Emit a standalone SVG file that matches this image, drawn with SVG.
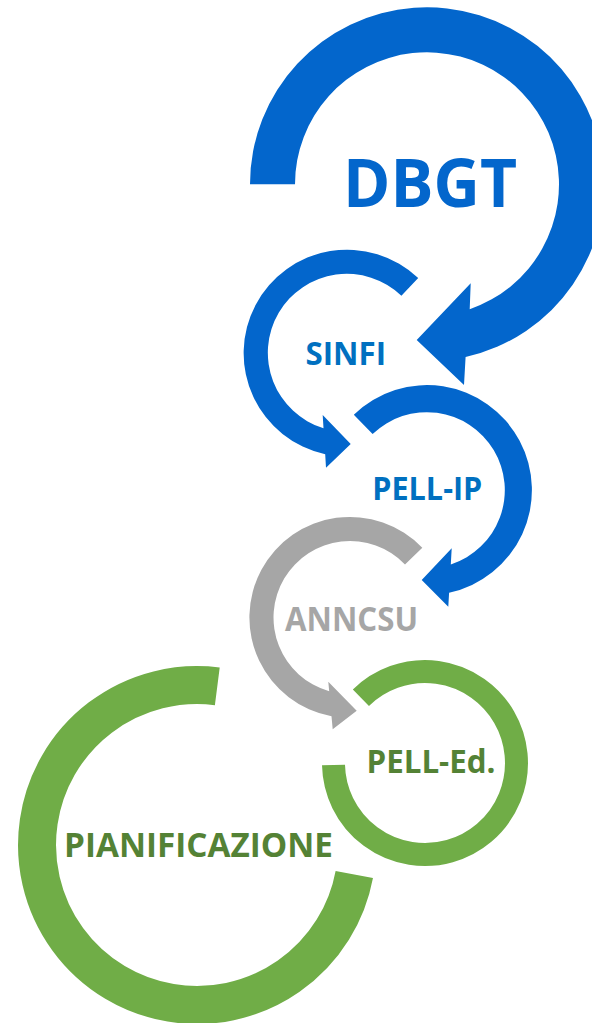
<svg xmlns="http://www.w3.org/2000/svg" width="592" height="1023" viewBox="0 0 592 1023">
<style>
.blue{fill:#0366CC}
.grey{fill:#A6A6A6}
.ring{fill:none;stroke:#70AD47}
.lbl{font-family:"Open Sans","Liberation Sans",sans-serif;font-weight:bold}
.tb{fill:#0070C0}
.tg{fill:#A6A6A6}
.tgr{fill:#548235}
</style>
<rect width="592" height="1023" fill="#FFFFFF"/>
<g id="node-dbgt">
<path class="blue" d="M250,184.3 A177,177 0 1 1 465.6,357 L464,385 L416.7,340 L470.7,283.3 L469.7,309.2 A132,132 0 1 0 295,184.3 Z"/>
<text class="lbl" x="343" y="207" font-size="66" textLength="174" lengthAdjust="spacingAndGlyphs" fill="#0366CC">DBGT</text>
</g>
<g id="node-sinfi">
<path class="blue" d="M418.2,277.9 A103.5,103.5 0 1 0 325.2,454.3 L326,467.7 L350.7,444 L322.7,415 L323.5,428.3 A79,79 0 1 1 401.4,295.7 Z"/>
<text class="lbl tb" x="305.5" y="365" font-size="32.6" textLength="80.5" lengthAdjust="spacingAndGlyphs">SINFI</text>
</g>
<g id="node-pell-ip">
<path class="blue" d="M353.8,414.7 A105,105 0 1 1 449.1,592.7 L448.3,606.7 L421.7,580 L451.7,548.3 L450.8,564.4 A78,78 0 1 0 372.6,434.1 Z"/>
<text class="lbl tb" x="372.3" y="500" font-size="31.8" textLength="110" lengthAdjust="spacingAndGlyphs">PELL-IP</text>
</g>
<g id="node-anncsu">
<path class="grey" d="M422.3,547.7 A100.5,100.5 0 1 0 331.5,716.2 L332.7,729.3 L356.7,710.7 L328.3,681.7 L329.2,691.2 A76.5,76.5 0 1 1 405,564.4 Z"/>
<text class="lbl tg" x="285" y="631" font-size="33.2" textLength="133" lengthAdjust="spacingAndGlyphs">ANNCSU</text>
</g>
<g id="node-pell-ed">
<path class="ring" stroke-width="23" d="M360.9,697.7 A91.5,91.5 0 1 1 333.5,765.1"/>
<text class="lbl tgr" x="366.5" y="772.7" font-size="31.8" textLength="129" lengthAdjust="spacingAndGlyphs">PELL-Ed.</text>
</g>
<g id="node-pianificazione">
<path class="ring" stroke-width="38" d="M217.3,686.3 A160,160 0 1 0 354.3,874.4"/>
<text class="lbl tgr" x="64" y="857.3" font-size="33.6" textLength="269" lengthAdjust="spacingAndGlyphs">PIANIFICAZIONE</text>
</g>
</svg>
